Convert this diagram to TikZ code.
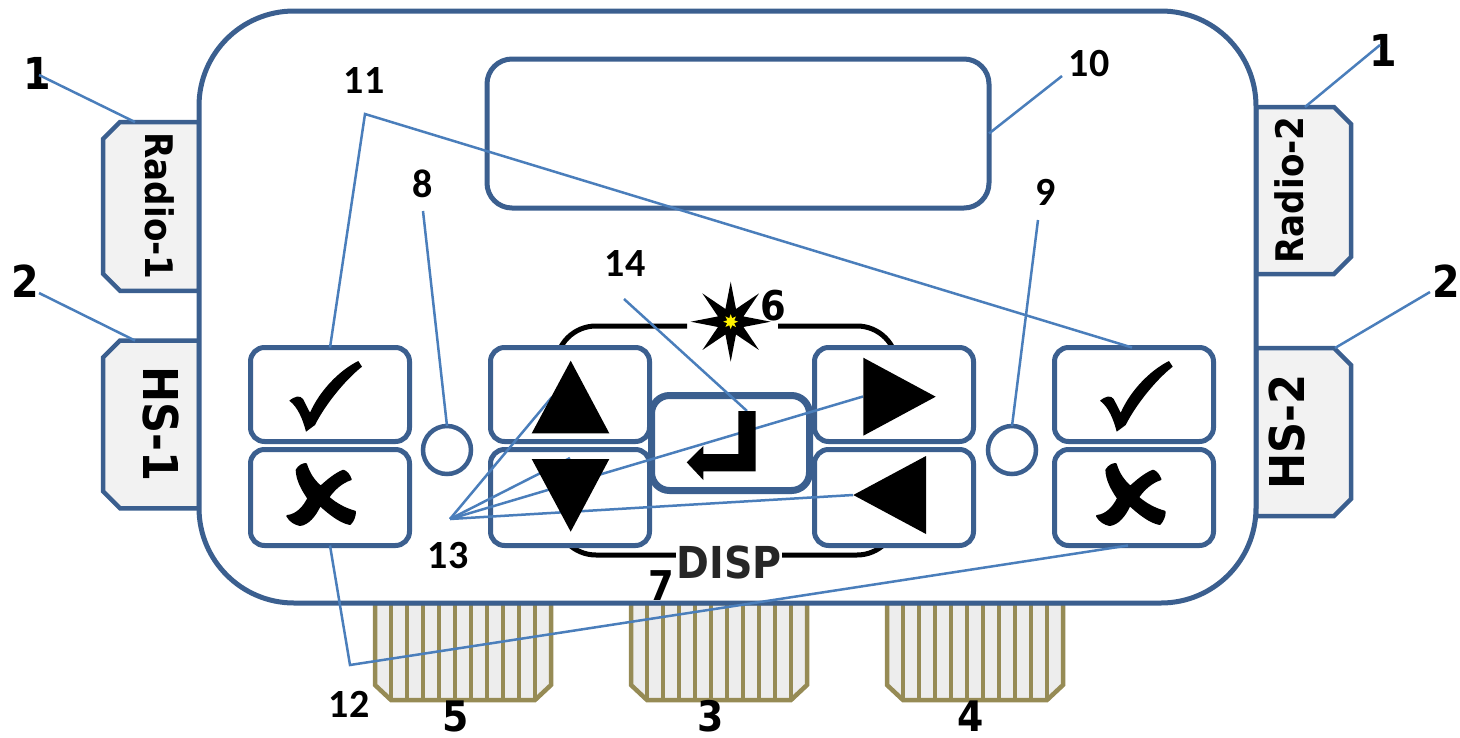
\documentclass[tikz,border=0pt]{standalone}
\usepackage{fontspec}
\usepackage{tikz}
\usetikzlibrary{shapes.geometric}
\newfontfamily\tabfont{DejaVu Sans Condensed}
\newfontfamily\callfont{Carlito}
\definecolor{panelblue}{HTML}{3B5F8F}
\definecolor{leaderblue}{HTML}{4A7EBB}
\definecolor{pinolive}{HTML}{968B55}
\tikzset{
  panelline/.style={draw=panelblue, line width=5pt, fill=white, rounded corners=#1, outer sep=0pt, inner sep=0pt},
  keybox/.style={panelline=14pt, minimum width=159pt},
  sizebox/.style={inner sep=0pt, outer sep=0pt},
  tabline/.style={draw=panelblue, line width=4.5pt, fill=black!5, line join=miter},
  pinline/.style={draw=pinolive, line width=4.5pt},
  pinbox/.style={sizebox, minimum width=176pt, minimum height=97pt},
  ledbox/.style={circle, draw=panelblue, line width=4.5pt, fill=white, minimum size=48pt, inner sep=0pt, outer sep=0pt},
  leader/.style={draw=leaderblue, line width=2.5pt},
  tabtext/.style={font=\tabfont\bfseries\fontsize{38}{38}\selectfont, inner sep=0pt},
  hstext/.style={font=\tabfont\bfseries\fontsize{48}{48}\selectfont, inner sep=0pt},
  bignum/.style={font=\tabfont\bfseries\fontsize{44}{44}\selectfont, inner sep=0pt},
  callnum/.style={font=\callfont\bfseries\fontsize{40}{40}\selectfont, inner sep=0pt},
  checksym/.pic={\fill[black] (-40.7,5.7) .. controls (-35,1) and (-30,0) .. (-27,4) -- (-20,17.7) .. controls (-10,-5) and (10,-25) .. (28.3,-34) -- (32,-28.3) .. controls (15,-15) and (-5,10) .. (-15,30) -- (-24,36.7) .. controls (-27,25) and (-32,12) .. (-40.7,5.7) -- cycle;},
  crosssym/.pic={\filldraw[black, line width=2pt, line join=round] (-24,-34) .. controls (-21,-24) and (-16,-17) .. (-9.3,-11.3) .. controls (-3,-17) and (5,-24) .. (13.3,-27.3) .. controls (17,-26) and (19,-23) .. (20.7,-18.7) .. controls (12,-16) and (4,-9) .. (-1.7,-0.7) .. controls (6,6) and (15,11) .. (25,13.7) .. controls (25,18) and (23,23) .. (20,26) .. controls (10,24) and (0,16) .. (-10,7) .. controls (-15,18) and (-22,26) .. (-30,27) .. controls (-35,26) and (-40,23) .. (-42.7,18) .. controls (-33,17) and (-26,9) .. (-21.7,0.3) .. controls (-28,-9) and (-33,-18) .. (-33.3,-28) .. controls (-31,-32) and (-27,-34) .. (-24,-34) -- cycle;}
}
\begin{document}
\begin{tikzpicture}[x=1pt,y=-1pt]
  \useasboundingbox (0,0) rectangle (1460,737);
  \node[sizebox, minimum width=96pt, minimum height=168.7pt] (radioa) at (151,206.4) {};
  \node[sizebox, minimum width=96pt, minimum height=167.7pt] (hsa) at (151,424.4) {};
  \node[sizebox, minimum width=95pt, minimum height=167pt] (radiob) at (1303.5,190.5) {};
  \node[sizebox, minimum width=95pt, minimum height=168pt] (hsb) at (1303.5,432) {};
  \foreach \tabname in {radioa,hsa}
    \draw[tabline] (\tabname.north east) -- ([xshift=17pt]\tabname.north west) -- ([yshift=-17pt]\tabname.north west) -- ([yshift=17pt]\tabname.south west) -- ([xshift=17pt]\tabname.south west) -- (\tabname.south east) -- cycle;
  \foreach \tabname in {radiob,hsb}
    \draw[tabline] (\tabname.north west) -- ([xshift=-17pt]\tabname.north east) -- ([yshift=-17pt]\tabname.north east) -- ([yshift=17pt]\tabname.south east) -- ([xshift=-17pt]\tabname.south east) -- (\tabname.south west) -- cycle;
  \foreach \pinname/\pinx/\pinlab/\labx in {pinsa/463/5/456, pinsb/719/3/711, pinsc/975/4/971} {
    \node[pinbox] (\pinname) at (\pinx,651.5) {};
    \draw[pinline, fill=black!7] (\pinname.north west) -- ([yshift=15pt]\pinname.south west) -- ([xshift=16pt]\pinname.south west) -- ([xshift=-16pt]\pinname.south east) -- ([yshift=15pt]\pinname.south east) -- (\pinname.north east) -- cycle;
    \foreach \i in {1,...,10}
      \draw[pinline] ([xshift=-88pt+16pt*\i]\pinname.north) -- ([xshift=-88pt+16pt*\i]\pinname.south);
    \node[bignum, font=\tabfont\bfseries\fontsize{42}{42}\selectfont] (lab\pinname) at (\labx,716) {\pinlab};
  }
  \node[panelline=95pt, minimum width=1057pt, minimum height=592pt] (body) at (727.5,307) {};
  \node[panelline=25pt, minimum width=502pt, minimum height=149pt] (disp) at (738,133.5) {};
  \node[tabtext, rotate=-90] (radioatxt) at (160,206) {Radio-1};
  \node[hstext, rotate=-90] (hsatxt) at (161,424) {HS-1};
  \node[tabtext, rotate=90] (radiobtxt) at (1289,190) {Radio-2};
  \node[hstext, rotate=90] (hsbtxt) at (1287,432) {HS-2};
  \draw[draw=black, line width=5pt, rounded corners=40pt] (687,326) -- (556,326) -- (556,380);
  \draw[draw=black, line width=5pt, rounded corners=40pt] (778,326) -- (897,326) -- (897,380);
  \draw[draw=black, line width=5pt, rounded corners=40pt] (556,510) -- (556,555) -- (897,555) -- (897,510);
  \node[keybox, minimum height=94pt] (chka) at (330,394.5) {};
  \node[keybox, minimum height=96pt] (crsa) at (330,497.5) {};
  \node[keybox, minimum height=94pt] (btnup) at (570,394.5) {};
  \node[keybox, minimum height=96pt] (btndn) at (570,497.5) {};
  \node[keybox, minimum height=94pt] (btnrt) at (894,394.5) {};
  \node[keybox, minimum height=96pt] (btnlf) at (894,497.5) {};
  \node[keybox, minimum height=94pt] (chkb) at (1134,394.5) {};
  \node[keybox, minimum height=96pt] (crsb) at (1134,497.5) {};
  \node[panelline=18pt, line width=7pt, minimum width=158pt, minimum height=95pt] (enter) at (730.5,443) {};
  \node[ledbox] (leda) at (447,450) {};
  \node[ledbox] (ledb) at (1012,450) {};
  \node[star, star points=8, star point ratio=2.9, fill=black, minimum size=80pt, inner sep=0pt] (lamp) at (730.7,321.7) {};
  \node[star, star points=8, star point ratio=2, fill=yellow, minimum size=15pt, inner sep=0pt] (lampcore) at (lamp.center) {};
  \node[bignum] (numla) at (37,73) {1};
  \node[bignum] (numlb) at (25,281) {2};
  \node[bignum] (numra) at (1383,50) {1};
  \node[bignum] (numrb) at (1446,281) {2};
  \node[bignum, font=\tabfont\bfseries\fontsize{41}{41}\selectfont] (numlamp) at (773,306) {6};
  \node[bignum, font=\tabfont\bfseries\fontsize{41}{41}\selectfont] (numdisp) at (661,586) {7};
  \node[callnum] (numleda) at (423,184) {8};
  \node[callnum] (numledb) at (1046,192) {9};
  \node[callnum] (numscreen) at (1089,64) {10};
  \node[callnum] (numchk) at (364,81) {11};
  \node[callnum] (numcrs) at (349,704) {12};
  \node[callnum] (numarrows) at (448,556) {13};
  \node[callnum] (numenter) at (625,264) {14};
  \node[bignum, text=black!85, fill=white, font=\tabfont\bfseries\fontsize{44}{44}\selectfont] (disptxt) at (729,562) {DISP};
  \coordinate (forkchk) at (365,114);
  \coordinate (forkcrs) at (350,665);
  \coordinate (hubarrows) at (450,519);
  \coordinate (startenter) at (624,299);
  \coordinate (startleda) at (423,211);
  \coordinate (startledb) at (1038,220);
  \coordinate (startscreen) at (1062,76);
  \draw[leader] ([shift={(2pt,-2pt)}]numla.center) -- ([xshift=-16pt]radioa.north);
  \draw[leader] ([shift={(14pt,-12pt)}]numlb.center) -- ([xshift=-16pt]hsa.north);
  \draw[leader] ([shift={(-3pt,5pt)}]numra.center) -- ([xshift=1.5pt]radiob.north);
  \draw[leader] ([shift={(-16pt,-11pt)}]numrb.center) -- ([xshift=31.5pt]hsb.north);
  \draw[leader] (chka.north) -- (forkchk) -- ([xshift=-2pt]chkb.north);
  \draw[leader] (crsa.south) -- (forkcrs) -- ([xshift=-6pt]crsb.south);
  \draw[leader] (startleda) -- (leda.north);
  \draw[leader] (startledb) -- (ledb.north);
  \draw[leader] (startscreen) -- (disp.east);
  \draw[leader] (startenter) -- ([shift={(16.5pt,32pt)}]enter.center);
  \draw[leader] (hubarrows) -- ([shift={(-18pt,-2.5pt)}]btnup.center);
  \draw[leader] (hubarrows) -- ([shift={(-31pt,-2pt)}]btnrt.center);
  \draw[leader] (hubarrows) -- ([shift={(0pt,39.5pt)}]btndn.center);
  \draw[leader] (hubarrows) -- ([shift={(-41pt,2.5pt)}]btnlf.center);
  \fill[black] (570.7,360.7) -- (531.7,433.3) -- (609.3,433.3) -- cycle;
  \fill[black] (531.7,459) -- (609.3,459) -- (570.7,531.7) -- cycle;
  \fill[black] (863.3,357.7) -- (863.3,435.7) -- (935.7,396.7) -- cycle;
  \fill[black] (926,456) -- (926,534) -- (853.3,495) -- cycle;
  \fill[black] (738.3,411) -- (755.7,411) -- (755.7,471.3) -- (703.3,471.3) -- (703.3,480) -- (686.7,462.3) -- (703.3,446) -- (703.3,454) -- (738.3,454) -- cycle;
  \pic at (330,395) {checksym};
  \pic at (1140.7,395) {checksym};
  \pic at (330,498) {crosssym};
  \pic at (1139.7,498) {crosssym};
\end{tikzpicture}
\end{document}
